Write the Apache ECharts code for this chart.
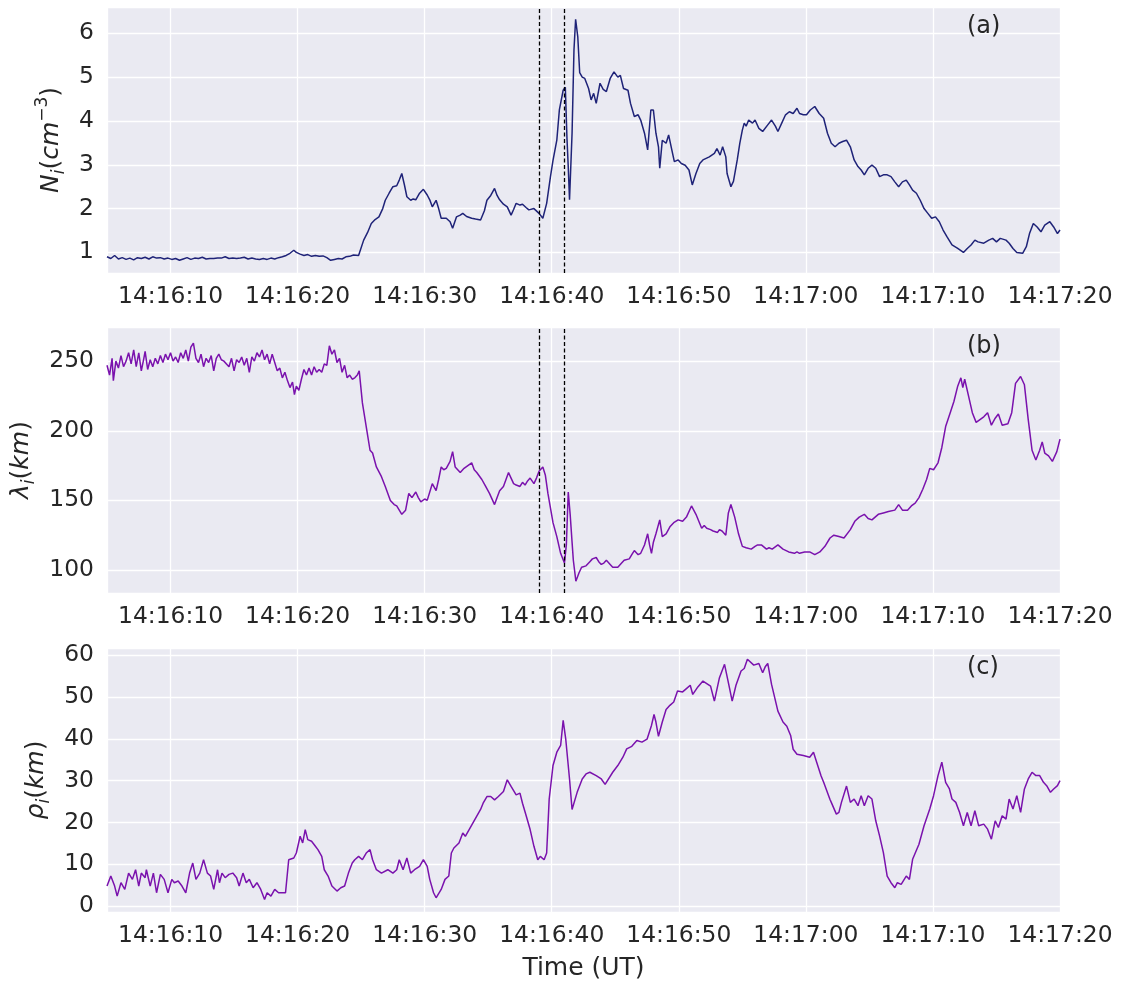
<!DOCTYPE html>
<html>
<head>
<meta charset="utf-8">
<script src="https://cdn.jsdelivr.net/npm/echarts@6/dist/echarts.min.js"></script>
<style>html,body{margin:0;padding:0;background:#fff}#c{width:1122px;height:982px}</style>
</head>
<body>
<div id="c"></div>
<script>
// time axis: seconds after 14:16:00 UT
const xTickSeconds = [10, 20, 30, 40, 50, 60, 70, 80];
const xTickLabels = ['14:16:10','14:16:20','14:16:30','14:16:40','14:16:50','14:17:00','14:17:10','14:17:20'];
const boundaryTimes = [39, 41];        // dashed vertical markers (panels a, b)
const panelLabels = ['(a)', '(b)', '(c)'];

// (a) ion density N_i (cm^-3): [seconds, value]
const densityPts = [
[5.0,0.90],[5.3,0.86],[5.6,0.93],[5.9,0.85],[6.2,0.88],[6.5,0.84],[6.8,0.87],[7.1,0.83],[7.4,0.88],[7.7,0.86],
[8.0,0.89],[8.3,0.85],[8.6,0.90],[8.9,0.87],[9.2,0.88],[9.5,0.85],[9.8,0.87],[10.1,0.84],[10.4,0.86],[10.7,0.82],
[11.0,0.85],[11.3,0.88],[11.6,0.84],[11.9,0.87],[12.2,0.86],[12.5,0.89],[12.8,0.85],[13.1,0.86],[13.4,0.86],[13.7,0.87],
[14.0,0.87],[14.3,0.90],[14.6,0.86],[14.9,0.87],[15.2,0.86],[15.5,0.87],[15.8,0.89],[16.1,0.85],[16.4,0.87],[16.7,0.85],
[17.0,0.84],[17.3,0.86],[17.6,0.84],[17.9,0.87],[18.2,0.85],[18.5,0.88],[18.8,0.90],[19.1,0.93],[19.4,0.98],[19.7,1.05],
[19.9,1.00],[20.2,0.96],[20.5,0.93],[20.8,0.95],[21.1,0.91],[21.4,0.93],[21.7,0.91],[22.0,0.92],[22.3,0.88],[22.6,0.82],
[22.9,0.84],[23.2,0.86],[23.5,0.85],[23.8,0.90],[24.1,0.91],[24.4,0.94],[24.8,0.93],
[25.2,1.28],[25.5,1.45],[25.8,1.66],[26.1,1.75],[26.4,1.81],[26.7,2.00],[26.9,2.19],[27.2,2.35],[27.5,2.50],[27.8,2.52],
[28.0,2.65],[28.2,2.80],[28.4,2.55],[28.6,2.27],[28.9,2.19],[29.1,2.22],[29.3,2.20],[29.6,2.35],[29.9,2.44],[30.2,2.31],
[30.4,2.20],[30.6,2.04],[30.9,2.19],[31.1,2.00],[31.3,1.78],[31.7,1.78],[32.0,1.70],[32.2,1.55],[32.5,1.81],[32.8,1.85],
[33.0,1.89],[33.3,1.82],[33.7,1.78],[34.0,1.76],[34.4,1.74],[34.7,1.95],[34.9,2.19],[35.2,2.30],[35.5,2.46],[35.7,2.30],
[35.9,2.20],[36.2,2.10],[36.5,2.04],[36.8,1.85],[37.0,1.98],[37.2,2.12],[37.5,2.08],[37.7,2.10],[38.0,2.02],[38.2,1.97],
[38.6,2.00],[39.0,1.89],[39.3,1.78],[39.6,2.12],[39.9,2.73],[40.1,3.10],[40.4,3.56],[40.6,4.25],[40.9,4.70],[41.07,4.77],
[41.2,3.60],[41.3,2.95],[41.4,2.20],[41.6,3.72],[41.75,5.62],[41.88,6.32],[42.05,5.92],[42.2,5.10],[42.4,5.00],[42.6,4.97],
[42.9,4.74],[43.1,4.48],[43.3,4.63],[43.5,4.40],[43.8,4.86],[44.05,4.72],[44.3,4.67],[44.6,4.97],[44.9,5.12],[45.2,5.00],
[45.4,5.04],[45.65,4.74],[46.0,4.70],[46.2,4.40],[46.5,4.10],[46.8,4.14],[47.0,4.02],[47.3,3.72],[47.55,3.34],[47.8,4.25],
[48.0,4.25],[48.2,3.72],[48.4,3.41],[48.5,2.92],[48.7,3.56],[49.0,3.49],[49.2,3.68],[49.45,3.34],[49.65,3.07],[49.95,3.11],
[50.2,3.03],[50.5,2.99],[50.8,2.88],[51.06,2.54],[51.35,2.80],[51.65,3.03],[51.9,3.11],[52.4,3.18],[52.8,3.26],[53.0,3.37],
[53.25,3.22],[53.45,3.41],[53.7,3.18],[53.8,2.80],[54.1,2.50],[54.3,2.62],[54.6,3.11],[54.8,3.49],[55.0,3.79],[55.15,3.95],
[55.3,3.88],[55.5,4.02],[55.8,3.95],[56.0,4.02],[56.3,3.83],[56.6,3.76],[57.0,3.91],[57.3,4.02],[57.6,3.88],[57.8,3.76],
[58.1,3.95],[58.4,4.14],[58.7,4.21],[59.0,4.17],[59.3,4.29],[59.5,4.17],[59.8,4.14],[60.05,4.14],[60.35,4.25],[60.7,4.33],
[61.05,4.17],[61.4,4.06],[61.7,3.72],[62.0,3.49],[62.3,3.41],[62.6,3.49],[62.9,3.53],[63.2,3.56],[63.5,3.41],[63.8,3.11],
[64.1,2.96],[64.35,2.88],[64.6,2.77],[64.9,2.92],[65.2,2.99],[65.5,2.92],[65.8,2.73],[66.1,2.77],[66.4,2.77],[66.7,2.73],
[67.0,2.61],[67.3,2.50],[67.6,2.61],[67.9,2.65],[68.15,2.54],[68.4,2.42],[68.7,2.35],[69.0,2.19],[69.3,2.00],[69.6,1.89],
[69.9,1.78],[70.2,1.81],[70.5,1.70],[70.8,1.51],[71.1,1.36],[71.5,1.17],[71.95,1.09],[72.4,1.00],[72.7,1.09],[73.0,1.17],
[73.3,1.28],[73.55,1.24],[74.0,1.21],[74.4,1.28],[74.7,1.32],[75.0,1.24],[75.3,1.32],[75.75,1.28],[76.0,1.21],[76.3,1.09],
[76.6,1.00],[77.06,0.98],[77.35,1.13],[77.6,1.43],[77.9,1.66],[78.2,1.58],[78.5,1.47],[78.8,1.62],[79.2,1.70],[79.5,1.58],
[79.8,1.43],[80.0,1.51]
];

// (b) ion inertial length lambda_i (km)
const lambdaPts = [
[5.0,247],[5.2,240],[5.4,252],[5.5,236],[5.7,250],[5.9,245],[6.1,254],[6.3,246],[6.5,250],[6.7,256],
[6.9,248],[7.1,258],[7.3,246],[7.5,256],[7.7,243],[7.9,252],[8.0,257],[8.2,244],[8.4,251],[8.6,246],
[8.8,252],[9.0,248],[9.2,254],[9.4,249],[9.6,255],[9.8,251],[10.0,256],[10.2,250],[10.4,253],[10.6,249],
[10.8,256],[11.0,252],[11.2,258],[11.4,250],[11.6,260],[11.8,263],[12.0,252],[12.2,249],[12.4,255],[12.6,246],
[12.8,252],[13.0,249],[13.2,254],[13.4,243],[13.6,252],[13.8,255],[14.0,251],[14.2,250],[14.4,248],[14.6,246],
[14.8,252],[15.0,243],[15.2,251],[15.4,249],[15.6,253],[15.8,247],[16.0,252],[16.2,242],[16.4,253],[16.6,250],
[16.8,256],[17.0,253],[17.2,258],[17.4,251],[17.6,255],[17.8,248],[18.0,255],[18.2,249],[18.4,243],[18.6,245],
[18.8,238],[19.0,242],[19.2,236],[19.4,231],[19.6,235],[19.75,226],[19.9,232],[20.1,229],[20.3,237],[20.5,244],
[20.7,240],[20.9,245],[21.1,240],[21.3,246],[21.5,242],[21.7,244],[21.9,242],[22.1,248],[22.3,247],[22.5,261],
[22.7,255],[22.9,258],[23.1,249],[23.3,252],[23.5,242],[23.7,247],[23.9,238],[24.1,240],[24.3,237],[24.5,238],
[24.7,240],[24.85,243],
[25.1,220],[25.4,203],[25.7,186],[25.9,184],[26.2,174],[26.6,167],[26.9,160],[27.3,150],[27.6,147],[27.8,146],
[28.2,140],[28.5,143],[28.75,155],[29.0,152],[29.3,156],[29.5,152],[29.7,149],[30.0,151],[30.2,150],[30.6,162],
[30.9,157],[31.1,165],[31.3,174],[31.5,172],[31.7,173],[32.0,178],[32.2,185],[32.4,174],[32.6,172],[32.8,170],
[33.1,173],[33.4,175],[33.7,177],[33.9,172],[34.1,170],[34.5,165],[34.8,160],[35.1,155],[35.5,147],[35.7,152],
[35.9,157],[36.2,160],[36.4,165],[36.6,170],[36.8,166],[37.0,162],[37.2,161],[37.5,160],[37.7,163],[37.9,161],
[38.1,164],[38.3,166],[38.6,162],[38.8,166],[39.0,171],[39.3,174],[39.5,168],[39.7,155],[40.1,134],[40.4,124],
[40.7,112],[41.0,105],[41.15,118],[41.3,156],[41.45,140],[41.6,120],[41.7,107],[41.9,92],[42.15,98],[42.35,102],
[42.7,103],[43.0,106],[43.2,108],[43.5,109],[43.7,106],[43.9,104],[44.1,105],[44.3,107],[44.6,104],[44.8,102],
[45.2,102],[45.5,105],[45.7,107],[46.1,108],[46.3,111],[46.5,114],[46.8,111],[47.0,112],[47.3,118],[47.55,126],
[47.7,118],[47.85,112],[48.0,120],[48.2,126],[48.5,136],[48.7,124],[49.0,126],[49.3,131],[49.6,134],[49.95,136],
[50.3,135],[50.6,138],[51.0,146],[51.35,140],[51.8,130],[52.0,132],[52.2,130],[52.5,129],[52.7,128],[53.05,127],
[53.2,129],[53.4,128],[53.7,125],[53.9,141],[54.1,147],[54.4,138],[54.7,126],[55.0,117],[55.3,116],[55.7,115],
[56.0,117],[56.2,118],[56.5,118],[56.9,115],[57.1,116],[57.35,115],[57.8,118],[58.2,115],[58.65,113],[59.1,112],
[59.3,113],[59.5,112],[59.9,113],[60.3,113],[60.7,111],[61.1,113],[61.5,117],[61.9,123],[62.2,125],[62.6,124],
[63.0,123],[63.5,129],[63.85,135],[64.2,138],[64.6,140],[64.9,137],[65.2,136],[65.7,140],[66.1,141],[66.5,142],
[67.0,143],[67.3,147],[67.6,143],[68.0,143],[68.3,146],[68.6,148],[68.9,152],[69.2,158],[69.5,165],[69.75,173],
[70.05,172],[70.4,177],[70.7,188],[71.0,203],[71.4,214],[71.65,221],[71.95,232],[72.2,238],[72.35,231],[72.5,237],
[72.8,225],[73.1,213],[73.4,206],[73.7,208],[74.0,210],[74.3,213],[74.6,204],[74.9,209],[75.15,212],[75.45,204],
[75.9,205],[76.2,213],[76.5,234],[76.9,239],[77.2,233],[77.5,208],[77.8,186],[78.1,179],[78.4,186],[78.6,192],
[78.8,184],[79.1,182],[79.4,178],[79.75,185],[80.0,194]
];

// (c) ion gyroradius rho_i (km)
const rhoPts = [
[5.0,4.8],[5.3,7.2],[5.6,4.8],[5.8,2.4],[6.1,5.6],[6.4,4.0],[6.7,7.9],[7.0,6.4],[7.25,8.7],[7.5,4.8],
[7.7,7.9],[8.0,6.8],[8.1,8.7],[8.4,4.8],[8.65,7.9],[8.9,3.2],[9.2,7.6],[9.5,6.4],[9.8,3.2],[10.1,6.4],
[10.3,5.6],[10.6,6.0],[10.9,4.8],[11.2,3.2],[11.5,7.9],[11.75,10.3],[12.0,6.4],[12.3,7.9],[12.6,11.1],[12.9,7.9],
[13.15,7.2],[13.4,4.0],[13.7,8.7],[13.85,5.6],[14.05,7.9],[14.3,6.8],[14.6,7.6],[14.9,7.9],[15.2,6.8],[15.4,4.8],
[15.7,7.9],[15.96,5.6],[16.2,6.4],[16.5,4.4],[16.8,5.6],[17.1,4.0],[17.4,1.6],[17.6,3.2],[17.9,2.4],[18.2,4.0],
[18.5,3.2],[18.8,3.2],[19.05,3.2],[19.3,11.1],[19.7,11.5],[19.9,12.7],[20.2,16.7],[20.4,15.1],[20.6,18.3],[20.8,15.9],
[21.1,15.5],[21.4,14.3],[21.6,13.5],[21.9,11.9],[22.1,8.7],[22.4,7.2],[22.7,4.8],[23.1,3.6],[23.4,4.4],[23.7,4.8],
[24.0,7.9],[24.3,10.3],[24.5,11.1],[24.8,11.9],[25.1,11.1],[25.4,12.7],[25.7,13.5],[25.9,11.1],[26.2,8.7],[26.6,7.9],
[27.1,8.7],[27.5,7.9],[27.8,8.7],[28.0,11.1],[28.3,8.7],[28.6,11.5],[28.9,7.9],[29.2,8.7],[29.6,9.5],[29.9,11.1],
[30.2,9.5],[30.4,6.4],[30.7,3.2],[30.9,2.0],[31.3,4.0],[31.6,6.4],[31.9,7.2],[32.1,12.7],[32.3,13.9],[32.7,15.1],
[33.0,17.5],[33.2,16.7],[33.5,18.3],[33.8,19.9],[34.1,21.5],[34.4,23.1],[34.6,24.6],[34.9,26.2],[35.2,26.2],[35.5,25.4],
[35.8,26.2],[36.2,27.4],[36.5,30.2],[36.8,28.6],[37.2,26.6],[37.5,27.0],[37.7,24.6],[38.0,21.5],[38.3,18.3],[38.6,14.3],
[38.9,11.1],[39.1,11.9],[39.4,11.1],[39.6,12.7],[39.8,25.6],[40.1,33.6],[40.4,36.8],[40.7,38.4],[40.9,44.4],[41.1,40.0],
[41.4,30.4],[41.6,23.1],[42.0,27.2],[42.4,30.4],[42.7,31.6],[43.0,32.0],[43.5,31.2],[43.9,30.4],[44.2,29.1],[44.8,32.0],
[45.2,33.6],[45.6,35.6],[45.9,37.6],[46.3,38.2],[46.7,39.6],[47.1,39.2],[47.5,39.9],[47.85,43.2],[48.05,45.8],[48.2,44.0],
[48.4,40.6],[48.7,44.0],[49.0,47.0],[49.3,48.0],[49.6,48.8],[49.9,51.4],[50.3,51.2],[50.6,52.0],[50.9,52.8],[51.1,50.6],
[51.5,52.4],[51.9,53.8],[52.2,53.2],[52.5,52.6],[52.8,49.0],[53.2,54.6],[53.4,56.2],[53.6,57.8],[54.0,52.0],[54.2,49.0],
[54.5,52.8],[54.9,56.2],[55.15,56.8],[55.4,59.0],[55.9,57.6],[56.3,58.0],[56.6,55.8],[56.8,57.2],[57.0,58.0],[57.3,53.0],
[57.8,46.6],[58.2,44.0],[58.5,43.0],[58.8,40.8],[59.0,37.5],[59.3,36.3],[59.8,36.0],[60.3,35.6],[60.6,36.8],[60.85,34.4],
[61.2,31.1],[61.4,29.6],[61.9,25.5],[62.0,24.8],[62.4,22.0],[62.6,22.4],[62.8,24.8],[63.2,28.7],[63.5,24.8],[63.8,25.6],
[64.1,24.0],[64.35,26.4],[64.6,24.0],[64.9,26.4],[65.2,25.6],[65.5,20.4],[65.8,16.8],[66.1,12.8],[66.4,7.2],[66.7,5.6],
[67.0,4.4],[67.2,5.6],[67.5,5.2],[67.9,7.2],[68.15,6.4],[68.4,11.2],[68.9,14.8],[69.3,19.2],[69.75,23.2],[70.05,26.4],
[70.4,31.2],[70.7,34.4],[71.0,29.6],[71.3,28.0],[71.5,25.6],[71.8,24.8],[72.1,22.4],[72.4,19.2],[72.7,22.4],[73.0,19.2],
[73.3,22.8],[73.6,19.2],[74.0,19.6],[74.3,18.4],[74.6,16.0],[74.9,20.4],[75.15,18.8],[75.45,21.6],[75.75,20.8],[76.0,25.6],
[76.3,23.2],[76.6,26.4],[76.9,22.4],[77.2,28.0],[77.5,30.4],[77.8,32.0],[78.1,31.2],[78.4,31.2],[78.7,29.6],[78.95,28.8],
[79.25,27.2],[79.5,28.0],[79.8,28.8],[80.0,30.0]
];

const yRanges = [[0.53, 6.6], [83.5, 274.5], [-1.4, 61.7]];
const yIntervals = [1, 50, 10];

const FONT = 'DejaVu Sans';
const TXT = '#262626';
const tops = [7, 327, 648];
const heights = [266, 266, 265];
const nameGaps = [36, 66, 49];
const lineColors = ['#1f2378', '#7a12ad', '#7a12ad'];
const yNames = [
  '{it|N}{sub|i}{rm|(}{it|cm}{sup|−3}{rm|)}',
  '{it|λ}{sub|i}{rm|(}{it|km}{rm|)}',
  '{it|ρ}{sub|i}{rm|(}{it|km}{rm|)}'
];
const nameRich = {
  it: {fontFamily: FONT, fontStyle: 'italic', fontSize: 25, color: TXT, lineHeight: 34, verticalAlign: 'middle'},
  rm: {fontFamily: FONT, fontSize: 25, color: TXT, lineHeight: 34, verticalAlign: 'middle'},
  sub: {fontFamily: FONT, fontStyle: 'italic', fontSize: 17, color: TXT, lineHeight: 17, verticalAlign: 'bottom'},
  sup: {fontFamily: FONT, fontSize: 17, color: TXT, lineHeight: 17, verticalAlign: 'top'}
};

function xLabel(v) {
  const r = Math.round(v);
  if (Math.abs(v - r) > 1e-6) return '';
  const i = xTickSeconds.indexOf(r);
  return i >= 0 ? xTickLabels[i] : '';
}

const grids = [], xAxes = [], yAxes = [], titles = [];
const seriesData = [densityPts, lambdaPts, rhoPts];
for (let k = 0; k < 3; k++) {
  grids.push({left: 107, width: 953, top: tops[k], height: heights[k], show: true,
    backgroundColor: '#EAEAF2', borderWidth: 0, containLabel: false});
  xAxes.push({type: 'value', gridIndex: k, min: 5, max: 80, splitNumber: 8,
    minInterval: 10, maxInterval: 10,
    axisLine: {show: false}, axisTick: {show: false},
    axisLabel: {show: true, formatter: xLabel, fontFamily: FONT, fontSize: 23.4, color: TXT, margin: 12,
      showMinLabel: false, showMaxLabel: true},
    splitLine: {show: true, lineStyle: {color: '#ffffff', width: 1.3}},
    name: k === 2 ? 'Time (UT)' : '', nameLocation: 'middle', nameGap: 44,
    nameTextStyle: {fontFamily: FONT, fontSize: 25, color: TXT}
  });
  yAxes.push({type: 'value', gridIndex: k, min: yRanges[k][0], max: yRanges[k][1], splitNumber: 6,
    minInterval: yIntervals[k], maxInterval: yIntervals[k],
    axisLine: {show: false}, axisTick: {show: false},
    axisLabel: {fontFamily: FONT, fontSize: 23.4, color: TXT, margin: 13, showMinLabel: false, showMaxLabel: false},
    splitLine: {show: true, lineStyle: {color: '#ffffff', width: 1.3}},
    name: yNames[k], nameLocation: 'middle', nameRotate: 90, nameGap: nameGaps[k],
    nameTextStyle: {rich: nameRich}
  });
  titles.push({text: panelLabels[k], left: 967, top: tops[k] + 8, padding: 0,
    textStyle: {fontFamily: FONT, fontSize: 24, fontWeight: 'normal', color: TXT}});
}

const series = seriesData.map((pts, k) => ({
  type: 'line', xAxisIndex: k, yAxisIndex: k, data: pts, showSymbol: false, symbol: 'none',
  lineStyle: {color: lineColors[k], width: 1.5}, z: 3, silent: true,
  markLine: k < 2 ? {
    silent: true, symbol: ['none', 'none'], label: {show: false},
    lineStyle: {color: '#000000', type: [4, 2.5], width: 1.3},
    data: boundaryTimes.map(t => ({xAxis: t}))
  } : undefined
}));

const chart = echarts.init(document.getElementById('c'), null, {renderer: 'canvas'});
chart.setOption({
  animation: false,
  backgroundColor: '#ffffff',
  title: titles,
  grid: grids,
  xAxis: xAxes,
  yAxis: yAxes,
  series: series
});
</script>
</body>
</html>
